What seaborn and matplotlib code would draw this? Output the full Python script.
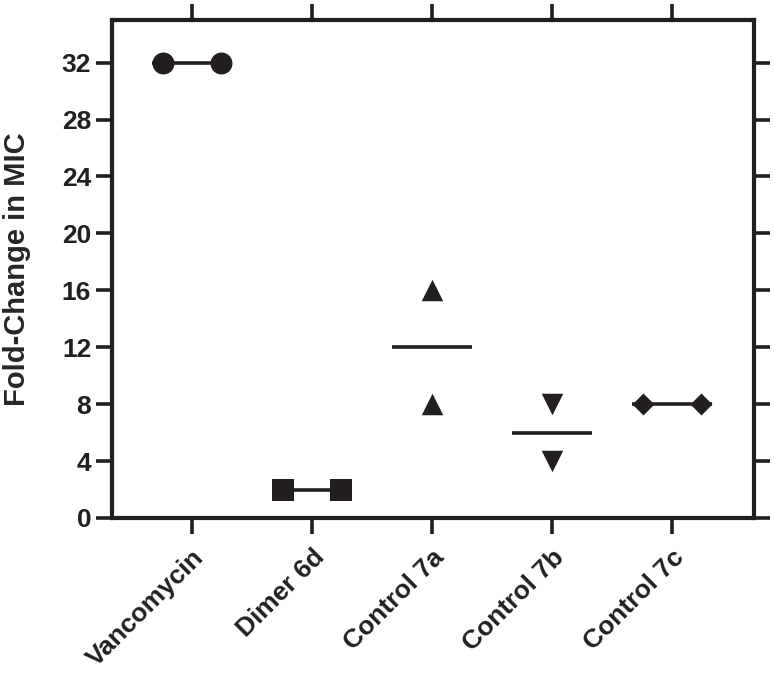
import numpy as np
import pandas as pd
import matplotlib
matplotlib.use("Agg")
import matplotlib.pyplot as plt
import seaborn as sns

# Data (two replicates per compound)
groups = ["Vancomycin", "Dimer 6d", "Control 7a", "Control 7b", "Control 7c"]
vancomycin = [32, 32]
dimer_6d = [2, 2]
control_7a = [16, 8]
control_7b = [8, 4]
control_7c = [8, 8]
y_ticks = [0, 4, 8, 12, 16, 20, 24, 28, 32]

values = [vancomycin, dimer_6d, control_7a, control_7b, control_7c]
markers = ["o", "s", "^", "v", "D"]
marker_area = [250, 250, 240, 240, 125]

ink = "#231f20"

sns.set_style("ticks")
plt.rcParams["font.family"] = ["Liberation Sans", "DejaVu Sans"]
plt.rcParams["font.weight"] = "bold"

# Build long table; tied replicates are spread sideways like GraphPad does
rows = []
for i, (g, v) in enumerate(zip(groups, values)):
    tied = len(set(v)) == 1
    offs = [-0.245, 0.245] if tied else [0.0] * len(v)
    for val, o in zip(v, offs):
        rows.append({"group": g, "pos": i + o, "value": val})
df = pd.DataFrame(rows)

fig, ax = plt.subplots(figsize=(7.74, 6.84), dpi=100)
fig.subplots_adjust(left=0.1447, right=0.9742, bottom=0.2427, top=0.9708)

# Mean lines
means = df.groupby("group", sort=False)["value"].mean()
for i, g in enumerate(groups):
    ax.hlines(means[g], i - 0.333, i + 0.333, color=ink, lw=2.6, zorder=2)

# Points
for i, g in enumerate(groups):
    sns.scatterplot(data=df[df["group"] == g], x="pos", y="value", ax=ax,
                    marker=markers[i], s=marker_area[i], color=ink,
                    linewidth=0, zorder=3, legend=False)

ax.set_xlim(-0.667, 4.683)
ax.set_ylim(0, 35)
ax.set_yticks(y_ticks)
ax.set_xticks(range(len(groups)))
ax.set_xticklabels(groups, rotation=45, ha="right", va="top", rotation_mode="anchor")
ax.set_xlabel("")
ax.set_ylabel("Fold-Change in MIC", fontsize=21, fontweight="bold", labelpad=22)

for s in ax.spines.values():
    s.set_visible(True)
    s.set_linewidth(3)
    s.set_color(ink)

ax.tick_params(axis="both", which="major", direction="out", length=11.5, width=2.6,
               color=ink, labelsize=19, labelcolor=ink, top=True, right=True,
               labeltop=False, labelright=False, pad=3.5)
ax.tick_params(axis="x", pad=8)

plt.savefig("out.png", dpi=100)
